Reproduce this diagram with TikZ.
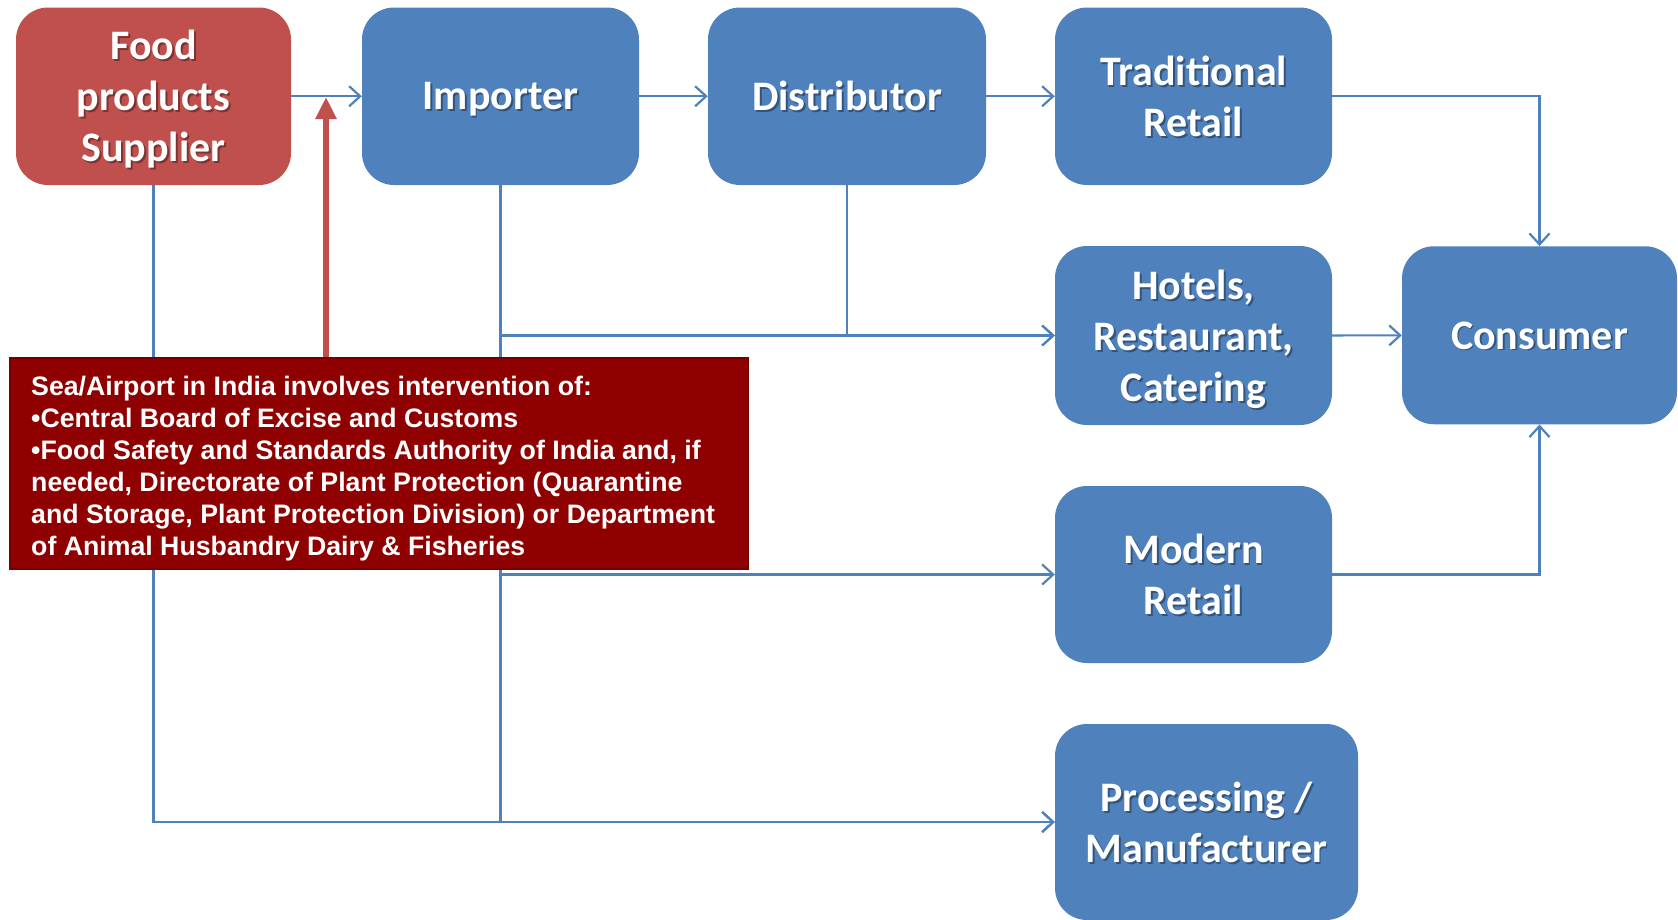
\documentclass[tikz,border=0pt]{standalone}
\usepackage{fontspec}
\setmainfont{Carlito}
\newfontfamily\notefont{Liberation Sans}
\usetikzlibrary{arrows.meta}

\definecolor{flowblue}{RGB}{79,129,189}
\definecolor{supred}{RGB}{192,80,77}
\definecolor{notered}{RGB}{143,0,0}
\definecolor{noteedge}{RGB}{118,0,0}

\tikzset{
  stagebox/.style={draw=none, rounded corners=32pt, inner sep=0pt},
  stagetext/.style={text=white, font=\fontsize{42}{51}\selectfont\bfseries, align=center,
    inner sep=0pt, text depth=0pt},
  flow/.style={draw=flowblue, line width=2.2pt,
    -{Straight Barb[length=11pt,width=20pt,line width=2.2pt]}},
  gate/.style={draw=supred, line width=6pt, -{Triangle[length=22pt,width=20pt]}},
  notebox/.style={draw=noteedge, fill=notered, line width=1.5pt, inner sep=0pt},
  notetext/.style={text=white, font=\notefont\fontsize{26.7}{32}\selectfont\bfseries,
    align=left, inner sep=0pt},
}

% stage box: name, centre x, centre y, width, height, fill, label
\newcommand\stage[7]{%
  \node[stagebox, fill=#6, minimum width=#4pt, minimum height=#5pt] (#1) at (#2,#3) {};
  \node[stagetext, text=black, opacity=0.35] at ([shift={(1.8,1.8)}]#1.center) {#7};
  \node[stagetext] at (#1.center) {#7};
}

\begin{document}
\begin{tikzpicture}[x=1pt,y=-1pt]
\useasboundingbox (0,0) rectangle (1678,919);

% supply chain stages
\stage{sup}{153.5}{96.25}{275}{177.5}{supred}{Food\\products\\Supplier}
\stage{imp}{500.5}{96.25}{277}{177.5}{flowblue}{Importer}
\stage{dis}{847}{96.25}{278}{177.5}{flowblue}{Distributor}
\stage{trad}{1193.5}{96.25}{277}{177.5}{flowblue}{Traditional\\Retail}
\stage{hot}{1193.5}{335.5}{277}{179}{flowblue}{Hotels,\\Restaurant,\\Catering}
\stage{con}{1539.5}{335.25}{275}{178}{flowblue}{Consumer}
\stage{mod}{1193.5}{574.5}{277}{177}{flowblue}{Modern\\Retail}
\stage{proc}{1206.5}{822}{303}{196}{flowblue}{Processing /\\Manufacturer}

% flows between stages
\draw[flow] (sup) -- (imp);
\draw[flow] (imp) -- (dis);
\draw[flow] (dis) -- (trad);
\draw[flow] (trad.east) -| (con.north);
\draw[flow] (hot) -- (con);
\draw[flow] (mod.east) -| (con.south);
\draw[flow] (sup.south) |- (proc.west);
\draw[flow] (imp.south) |- (proc.west);
\draw[flow] (imp.south) |- (hot.west);
\draw[flow] (imp.south) |- (mod.west);
\draw[flow] (dis.south) |- (hot.west);

% port of entry note
\node[notebox, minimum width=738pt, minimum height=211pt] (note) at (379,463.5) {};
\node[notetext, anchor=west] (notetext) at (31,469) {%
Sea/Airport in India involves intervention of:\\
•Central Board of Excise and Customs\\
•Food Safety and Standards Authority of India and, if\\
needed, Directorate of Plant Protection (Quarantine\\
and Storage, Plant Protection Division) or Department\\
of Animal Husbandry Dairy \& Fisheries};

% intervention point on the import flow
\coordinate (entry) at (326,97);
\draw[gate] (note.north -| entry) -- (entry);
\end{tikzpicture}
\end{document}
